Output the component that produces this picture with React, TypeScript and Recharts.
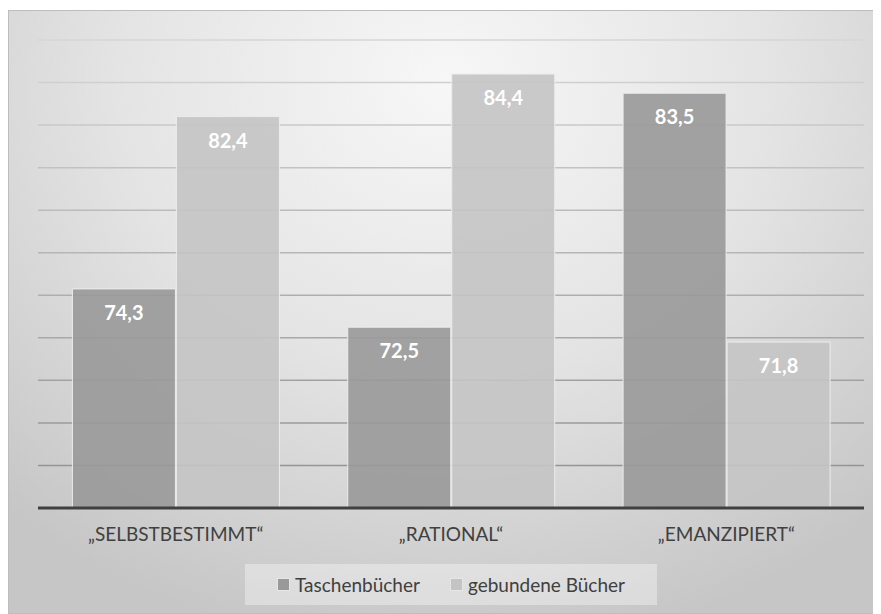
import {Bar, BarChart, CartesianGrid, LabelList, Legend, XAxis, YAxis} from "recharts";

const categories = ["„SELBSTBESTIMMT“", "„RATIONAL“", "„EMANZIPIERT“"];
const taschenbuecher = [74.3, 72.5, 83.5];
const gebundeneBuecher = [82.4, 84.4, 71.8];
const yTicks = [64, 66, 68, 70, 72, 74, 76, 78, 80, 82, 84, 86];

const seriesNames = {tb: "Taschenbücher", gb: "gebundene Bücher"};
const colors = {tb: "#999999", gb: "#c4c4c4"};

const data = categories.map((name, i) => ({
    name,
    tb: taschenbuecher[i],
    gb: gebundeneBuecher[i],
}));

const FONT = "Lato, 'Open Sans', sans-serif";

function formatValue(v: any) {
    return Number(v).toFixed(1).replace(".", ",");
}

function ChartLegend() {
    const items = [
        {key: "tb", label: seriesNames.tb, color: colors.tb},
        {key: "gb", label: seriesNames.gb, color: colors.gb},
    ];
    return <div style={{display: "flex", justifyContent: "center"}}>
        <div style={{
            display: "flex",
            alignItems: "center",
            justifyContent: "center",
            gap: 30,
            width: 412,
            height: 41,
            background: "rgba(255,255,255,0.35)",
            fontFamily: FONT,
            fontSize: 19,
            color: "#404040",
        }}>
            {items.map(item => (
                <div key={item.key} style={{display: "flex", alignItems: "center"}}>
                    <span style={{
                        display: "inline-block",
                        width: 11,
                        height: 11,
                        background: item.color,
                        border: "1px solid #e6e6e6",
                        marginRight: 5,
                    }}/>
                    <span>{item.label}</span>
                </div>
            ))}
        </div>
    </div>;
}

export default function App() {
    return <div style={{
        marginTop: 2,
        width: 873,
        height: 604,
        boxSizing: "border-box",
        border: "1px solid #bdbdbd",
        background: "radial-gradient(ellipse 75% 95% at 50% 12%, #f7f7f7 0%, #e4e4e4 50%, #c6c6c6 100%)",
    }}>
        <BarChart
            width={871}
            height={602}
            data={data}
            margin={{top: 29, right: 16, bottom: 14, left: 29}}
            barCategoryGap="12.5%"
            barGap={1}
        >
            <defs>
                <linearGradient id="gridFade" gradientUnits="userSpaceOnUse" x1="0" y1="29" x2="0" y2="496">
                    <stop offset="0%" stopColor="#d6d6d6"/>
                    <stop offset="100%" stopColor="#8e8e8e"/>
                </linearGradient>
            </defs>
            <CartesianGrid vertical={false} stroke="url(#gridFade)" strokeWidth={1.5}/>
            <YAxis hide domain={[64, 86]} ticks={yTicks} width={0}/>
            <XAxis
                dataKey="name"
                tickLine={false}
                axisLine={{stroke: "#404040", strokeWidth: 3}}
                tick={{fill: "#404040", fontSize: 19, fontFamily: FONT}}
                tickMargin={14}
                height={50}
            />
            <Legend verticalAlign="bottom" content={() => <ChartLegend/>} wrapperStyle={{bottom: 8}}/>
            <Bar dataKey="tb" name={seriesNames.tb} fill={colors.tb} fillOpacity={0.9}
                 stroke="#ececec" strokeWidth={1} isAnimationActive={false}>
                <LabelList dataKey="tb" position="insideTop" offset={17} formatter={formatValue}
                           fill="#ffffff" fontSize={20} fontWeight="bold" fontFamily={FONT}/>
            </Bar>
            <Bar dataKey="gb" name={seriesNames.gb} fill={colors.gb} fillOpacity={0.9}
                 stroke="#ececec" strokeWidth={1} isAnimationActive={false}>
                <LabelList dataKey="gb" position="insideTop" offset={17} formatter={formatValue}
                           fill="#ffffff" fontSize={20} fontWeight="bold" fontFamily={FONT}/>
            </Bar>
        </BarChart>
    </div>;
}
